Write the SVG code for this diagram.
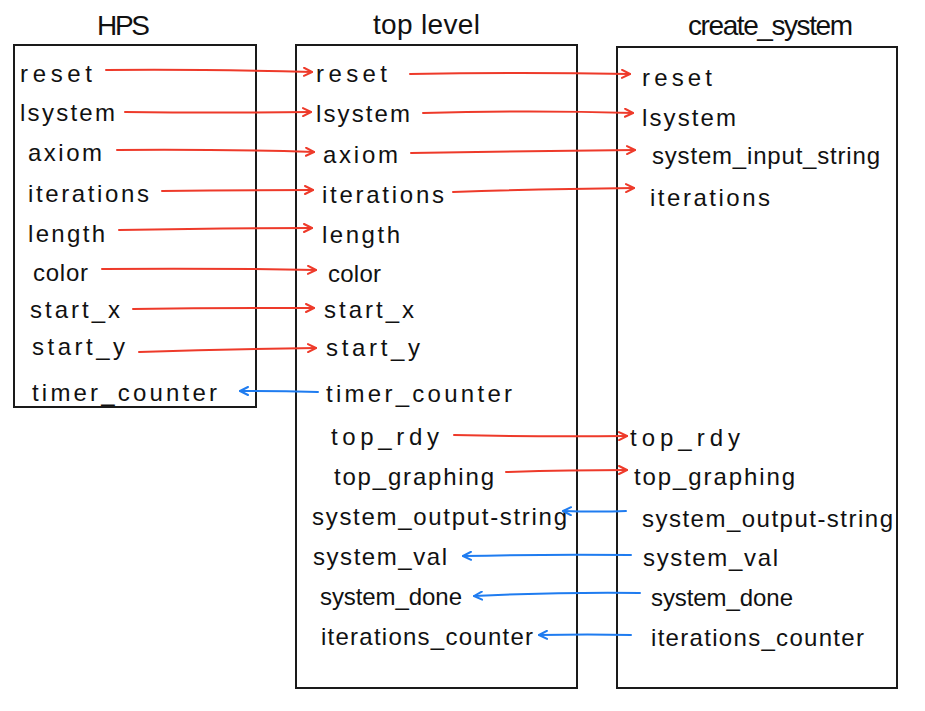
<svg xmlns="http://www.w3.org/2000/svg" width="925" height="711" viewBox="0 0 925 711">
<defs>
<style>
.box{fill:#fff;stroke:#1a1a1a;stroke-width:2}
.t{font-family:"Liberation Sans",Arial,sans-serif;font-size:24px;fill:#111}
.title{font-family:"Liberation Sans",Arial,sans-serif;font-size:28px;fill:#111}
.r{fill:none;stroke:#ee3a2a;stroke-width:2;stroke-linecap:round;marker-end:url(#ar)}
.b{fill:none;stroke:#1f7cf0;stroke-width:2;stroke-linecap:round;marker-end:url(#ab)}
</style>
<marker id="ar" viewBox="0 0 10 10" refX="9" refY="5" markerWidth="10" markerHeight="10" markerUnits="userSpaceOnUse" orient="auto">
<path d="M1,1 L9,5 L1,9" fill="none" stroke="#ee3a2a" stroke-width="2" stroke-linecap="round" stroke-linejoin="round"/>
</marker>
<marker id="ab" viewBox="0 0 10 10" refX="9" refY="5" markerWidth="10" markerHeight="10" markerUnits="userSpaceOnUse" orient="auto">
<path d="M1,1 L9,5 L1,9" fill="none" stroke="#1f7cf0" stroke-width="2" stroke-linecap="round" stroke-linejoin="round"/>
</marker>
</defs>
<rect width="925" height="711" fill="#fff"/>

<g id="hps">
<rect class="box" x="14" y="45" width="242" height="362"/>
<text class="title" x="97" y="35" textLength="53">HPS</text>
<text class="t" x="20" y="82" textLength="72">reset</text>
<text class="t" x="20" y="121" textLength="95">lsystem</text>
<text class="t" x="28" y="161" textLength="74">axiom</text>
<text class="t" x="28" y="202" textLength="121">iterations</text>
<text class="t" x="28" y="242" textLength="77">length</text>
<text class="t" x="33" y="281" textLength="55">color</text>
<text class="t" x="30" y="318" textLength="90">start_x</text>
<text class="t" x="32" y="355" textLength="93">start_y</text>
<text class="t" x="32" y="401" textLength="185">timer_counter</text>
</g>

<g id="top_level">
<rect class="box" x="296" y="45" width="281" height="643"/>
<text class="title" x="373" y="34" textLength="107">top level</text>
<text class="t" x="316" y="82" textLength="71">reset</text>
<text class="t" x="316" y="122" textLength="94">lsystem</text>
<text class="t" x="323" y="163" textLength="75">axiom</text>
<text class="t" x="322" y="203" textLength="122">iterations</text>
<text class="t" x="322" y="243" textLength="78">length</text>
<text class="t" x="328" y="282" textLength="53">color</text>
<text class="t" x="324" y="318" textLength="90">start_x</text>
<text class="t" x="326" y="356" textLength="94">start_y</text>
<text class="t" x="326" y="402" textLength="186">timer_counter</text>
<text class="t" x="331" y="445" textLength="108">top_rdy</text>
<text class="t" x="334" y="485" textLength="160">top_graphing</text>
<text class="t" x="312" y="525" textLength="255">system_output-string</text>
<text class="t" x="313" y="565" textLength="134">system_val</text>
<text class="t" x="320" y="605" textLength="142">system_done</text>
<text class="t" x="321" y="645" textLength="212">iterations_counter</text>
</g>

<g id="create_system">
<rect class="box" x="617" y="47" width="280" height="641"/>
<text class="title" x="688" y="35" textLength="165">create_system</text>
<text class="t" x="642" y="86" textLength="70">reset</text>
<text class="t" x="642" y="126" textLength="94">lsystem</text>
<text class="t" x="652" y="164" textLength="228">system_input_string</text>
<text class="t" x="650" y="206" textLength="120">iterations</text>
<text class="t" x="630" y="446" textLength="110">top_rdy</text>
<text class="t" x="634" y="485" textLength="161">top_graphing</text>
<text class="t" x="642" y="527" textLength="251">system_output-string</text>
<text class="t" x="643" y="566" textLength="135">system_val</text>
<text class="t" x="651" y="606" textLength="142">system_done</text>
<text class="t" x="651" y="646" textLength="213">iterations_counter</text>
</g>

<g id="connectors">
<path class="r" d="M106,70 Q200,69 312,72"/>
<path class="r" d="M125,112 Q220,113 311,112"/>
<path class="r" d="M117,150 Q210,149 314,152"/>
<path class="r" d="M162,191 Q240,190 313,190"/>
<path class="r" d="M119,230 Q220,228 312,228"/>
<path class="r" d="M102,269 Q210,268 316,270"/>
<path class="r" d="M133,309 Q220,308 314,308"/>
<path class="r" d="M139,352 Q230,349 316,348"/>
<path class="b" d="M318,392 Q280,391 240,391"/>

<path class="r" d="M410,74 Q520,72 630,74"/>
<path class="r" d="M423,113 Q530,110 633,113"/>
<path class="r" d="M411,153 Q520,151 635,150"/>
<path class="r" d="M453,192 Q540,189 634,188"/>
<path class="r" d="M454,435 Q540,437 627,436"/>
<path class="r" d="M506,472 Q570,470 627,470"/>

<path class="b" d="M626,511 Q600,512 563,511"/>
<path class="b" d="M631,555 Q550,554 463,556"/>
<path class="b" d="M640,593 Q560,592 474,596"/>
<path class="b" d="M631,635 Q590,634 539,635"/>
</g>
</svg>
